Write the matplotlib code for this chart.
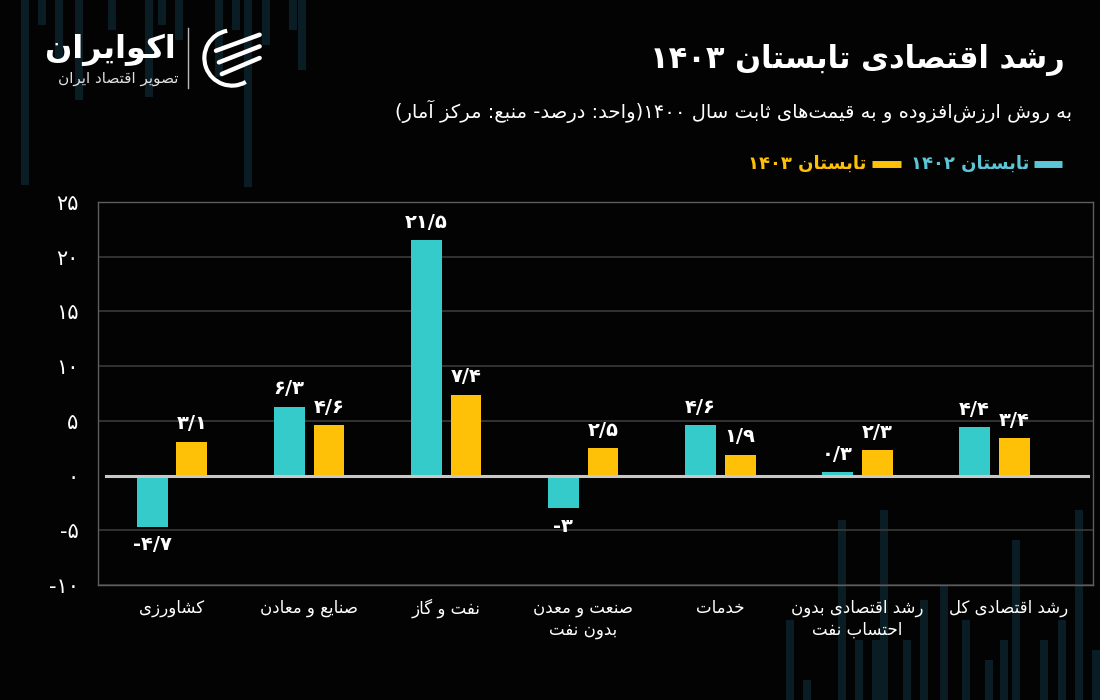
import matplotlib
matplotlib.use("Agg")
import matplotlib.pyplot as plt
import matplotlib.transforms as mtransforms
from matplotlib.patches import Rectangle, Arc
from matplotlib.lines import Line2D
import numpy as np

# ---------------- data ----------------
categories = ["کشاورزی", "صنایع و معادن", "نفت و گاز", "صنعت و معدن\nبدون نفت",
              "خدمات", "رشد اقتصادی بدون\nاحتساب نفت", "رشد اقتصادی کل"]
summer_1402 = [-4.7, 6.3, 21.5, -3.0, 4.6, 0.3, 4.4]
summer_1403 = [3.1, 4.6, 7.4, 2.5, 1.9, 2.3, 3.4]
series_names = ["تابستان ۱۴۰۲", "تابستان ۱۴۰۳"]
y_ticks = [-10, -5, 0, 5, 10, 15, 20, 25]
title = "رشد اقتصادی تابستان ۱۴۰۳"
subtitle = "به روش ارزش‌افزوده و به قیمت‌های ثابت سال ۱۴۰۰(واحد: درصد- منبع: مرکز آمار)"
brand = "اکوایران"
brand_sub = "تصویر اقتصاد ایران"

# ---------------- simple Arabic/Persian shaping + bidi ----------------
DUAL = {
    'ب': (0xFE8F, 0xFE90, 0xFE91, 0xFE92), 'پ': (0xFB56, 0xFB57, 0xFB58, 0xFB59),
    'ت': (0xFE95, 0xFE96, 0xFE97, 0xFE98), 'ث': (0xFE99, 0xFE9A, 0xFE9B, 0xFE9C),
    'ج': (0xFE9D, 0xFE9E, 0xFE9F, 0xFEA0), 'چ': (0xFB7A, 0xFB7B, 0xFB7C, 0xFB7D),
    'ح': (0xFEA1, 0xFEA2, 0xFEA3, 0xFEA4), 'خ': (0xFEA5, 0xFEA6, 0xFEA7, 0xFEA8),
    'س': (0xFEB1, 0xFEB2, 0xFEB3, 0xFEB4), 'ش': (0xFEB5, 0xFEB6, 0xFEB7, 0xFEB8),
    'ص': (0xFEB9, 0xFEBA, 0xFEBB, 0xFEBC), 'ض': (0xFEBD, 0xFEBE, 0xFEBF, 0xFEC0),
    'ط': (0xFEC1, 0xFEC2, 0xFEC3, 0xFEC4), 'ظ': (0xFEC5, 0xFEC6, 0xFEC7, 0xFEC8),
    'ع': (0xFEC9, 0xFECA, 0xFECB, 0xFECC), 'غ': (0xFECD, 0xFECE, 0xFECF, 0xFED0),
    'ف': (0xFED1, 0xFED2, 0xFED3, 0xFED4), 'ق': (0xFED5, 0xFED6, 0xFED7, 0xFED8),
    'ک': (0xFB8E, 0xFB8F, 0xFB90, 0xFB91), 'گ': (0xFB92, 0xFB93, 0xFB94, 0xFB95),
    'ل': (0xFEDD, 0xFEDE, 0xFEDF, 0xFEE0), 'م': (0xFEE1, 0xFEE2, 0xFEE3, 0xFEE4),
    'ن': (0xFEE5, 0xFEE6, 0xFEE7, 0xFEE8), 'ه': (0xFEE9, 0xFEEA, 0xFEEB, 0xFEEC),
    'ی': (0xFBFC, 0xFBFD, 0xFBFE, 0xFBFF), 'ئ': (0xFE89, 0xFE8A, 0xFE8B, 0xFE8C),
}
RIGHT = {
    'ا': (0xFE8D, 0xFE8E), 'آ': (0xFE81, 0xFE82), 'د': (0xFEA9, 0xFEAA),
    'ذ': (0xFEAB, 0xFEAC), 'ر': (0xFEAD, 0xFEAE), 'ز': (0xFEAF, 0xFEB0),
    'ژ': (0xFB8A, 0xFB8B), 'و': (0xFEED, 0xFEEE),
}


def shape(s):
    out = []
    i, n = 0, len(s)
    while i < n:
        c = s[i]
        prev = s[i - 1] if i > 0 else ''
        nxt = s[i + 1] if i + 1 < n else ''
        jp = prev in DUAL
        if c == 'ل' and nxt in ('ا', 'آ'):
            if nxt == 'ا':
                out.append(chr(0xFEFC if jp else 0xFEFB))
            else:
                out.append(chr(0xFEF6 if jp else 0xFEF5))
            i += 2
            continue
        if c in DUAL:
            jn = nxt in DUAL or nxt in RIGHT
            f = DUAL[c]
            if jp and jn:
                out.append(chr(f[3]))
            elif jp:
                out.append(chr(f[1]))
            elif jn:
                out.append(chr(f[2]))
            else:
                out.append(chr(f[0]))
        elif c in RIGHT:
            f = RIGHT[c]
            out.append(chr(f[1] if jp else f[0]))
        elif c == '\u200c':
            pass
        else:
            out.append(c)
        i += 1
    return ''.join(out)


DIG = set('۰۱۲۳۴۵۶۷۸۹0123456789٫')
MIRROR = {'(': ')', ')': '('}


def rtl(s):
    lines = []
    for line in s.split('\n'):
        sh = shape(line)
        tokens = []
        buf = ''
        for ch in sh:
            if ch in DIG:
                buf += ch
            else:
                if buf:
                    tokens.append(buf)
                    buf = ''
                tokens.append(MIRROR.get(ch, ch))
        if buf:
            tokens.append(buf)
        lines.append(''.join(tokens[::-1]))
    return '\n'.join(lines)


def fa_num(v):
    a = abs(v)
    txt = f"{a:.1f}" if a % 1 else f"{int(a)}"
    txt = txt.replace('.', '/')
    txt = txt.translate(str.maketrans('0123456789', '۰۱۲۳۴۵۶۷۸۹'))
    return ('-' + txt) if v < 0 else txt


# ---------------- style ----------------
BG = '#030303'
CYAN = '#35CBCB'
YELLOW = '#FFC107'
CYAN_TXT = '#5CC6D6'
GRID = '#3a3a3a'
FRAME = '#5e5e5e'
DECO = '#0a1d24'
plt.rcParams['font.family'] = ['DejaVu Sans']

fig = plt.figure(figsize=(11, 7), dpi=100, facecolor=BG)

# decorative background strips
bg = fig.add_axes([0, 0, 1, 1], zorder=0)
bg.set_xlim(0, 1100)
bg.set_ylim(700, 0)
bg.axis('off')
deco_top = [(21, 0, 185), (38, 0, 25), (55, 0, 60), (75, 0, 100), (108, 0, 30),
            (145, 0, 97), (158, 0, 25), (175, 0, 40), (215, 0, 77), (232, 0, 30),
            (244, 0, 187), (262, 0, 45), (289, 0, 30), (298, 0, 70)]
deco_bot = [(786, 620, 700), (803, 680, 700), (838, 520, 700), (855, 640, 700),
            (872, 640, 700), (880, 510, 700), (903, 640, 700), (920, 600, 700),
            (940, 585, 700), (962, 620, 700), (985, 660, 700), (1000, 640, 700),
            (1012, 540, 700), (1040, 640, 700), (1058, 620, 700), (1075, 510, 700),
            (1092, 650, 700)]
for x, y0, y1 in deco_top + deco_bot:
    bg.add_patch(Rectangle((x, y0), 8, y1 - y0, color=DECO, lw=0))

# ---------------- main axes ----------------
ax = fig.add_axes([98 / 1100, 1 - 585 / 700, (1093 - 98) / 1100, (585 - 202) / 700], zorder=2)
ax.set_facecolor('none')
x = np.arange(len(categories))
w = 0.225
off = 0.145
b1 = ax.bar(x - off, summer_1402, width=w, color=CYAN, zorder=3)
b2 = ax.bar(x + off, summer_1403, width=w, color=YELLOW, zorder=3)
ax.set_xlim(-0.54, len(categories) - 1 + 0.72)
ax.set_ylim(y_ticks[0], y_ticks[-1])
ax.set_yticks(y_ticks)
ax.set_yticklabels([fa_num(t) for t in y_ticks], color='white', fontsize=15)
ax.set_xticks(x)
ax.set_xticklabels([rtl(c) for c in categories], color='white', fontsize=12,
                   linespacing=1.25)
ax.tick_params(axis='both', length=0)
ax.tick_params(axis='y', pad=14)
ax.tick_params(axis='x', pad=10)
# nudge the last category label slightly right, as in the reference
last = ax.get_xticklabels()[-1]
last.set_transform(last.get_transform() + mtransforms.ScaledTranslation(0.14, 0, fig.dpi_scale_trans))
for t in y_ticks:
    if t != 0:
        ax.axhline(t, color=GRID, lw=1.2, zorder=1)
ax.plot([-0.48, len(categories) - 1 + 0.68], [0, 0], color='#c8c8c8', lw=2.2, zorder=4)
for s in ax.spines.values():
    s.set_color(FRAME)
    s.set_linewidth(1)

for bars, vals in ((b1, summer_1402), (b2, summer_1403)):
    for bar, v in zip(bars, vals):
        cx = bar.get_x() + bar.get_width() / 2
        if v >= 0:
            ax.annotate(fa_num(v), (cx, v), xytext=(0, 6), textcoords='offset points',
                        ha='center', va='bottom', color='white', fontsize=14,
                        fontweight='bold')
        else:
            ax.annotate(fa_num(v), (cx, v), xytext=(0, -6), textcoords='offset points',
                        ha='center', va='top', color='white', fontsize=14,
                        fontweight='bold')

# ---------------- titles ----------------
fig.text(1065 / 1100, 1 - 60 / 700, rtl(title), ha='right', va='center',
         color='white', fontsize=22, fontweight='bold')
fig.text(1072 / 1100, 1 - 111 / 700, rtl(subtitle), ha='right', va='center',
         color='white', fontsize=14)

# legend (manual, RTL)
ly = 1 - 164 / 700
fig.add_artist(Line2D([1034 / 1100, 1062 / 1100], [ly, ly], color=CYAN_TXT, lw=5,
                      solid_capstyle='butt'))
fig.text(1029 / 1100, ly, rtl(series_names[0]), ha='right', va='center',
         color=CYAN_TXT, fontsize=13, fontweight='bold')
fig.add_artist(Line2D([872 / 1100, 901 / 1100], [ly, ly], color=YELLOW, lw=5,
                      solid_capstyle='butt'))
fig.text(866 / 1100, ly, rtl(series_names[1]), ha='right', va='center',
         color=YELLOW, fontsize=13, fontweight='bold')

# ---------------- logo ----------------
fig.text(176 / 1100, 1 - 50 / 700, rtl(brand), ha='right', va='center',
         color='white', fontsize=23, fontweight='bold')
fig.text(178 / 1100, 1 - 79 / 700, rtl(brand_sub), ha='right', va='center',
         color='#e0e0e0', fontsize=11)
fig.add_artist(Line2D([188 / 1100, 188 / 1100], [1 - 28 / 700, 1 - 88 / 700],
                      color='#bbbbbb', lw=1))
lg = fig.add_axes([200 / 1100, 1 - 90 / 700, 64 / 1100, 64 / 700], zorder=3)
lg.set_xlim(-1.1, 1.1)
lg.set_ylim(-1.1, 1.1)
lg.set_aspect('equal')
lg.axis('off')
lg.add_patch(Arc((0, 0), 1.9, 1.9, theta1=100, theta2=300, color='white', lw=3))
for k, yy in enumerate([0.45, 0.05, -0.35]):
    lg.plot([-0.55 + 0.1 * k, 0.95], [yy - 0.2, yy + 0.35], color='white', lw=3.2,
            solid_capstyle='round')

fig.savefig('out.png', dpi=100, facecolor=BG)
